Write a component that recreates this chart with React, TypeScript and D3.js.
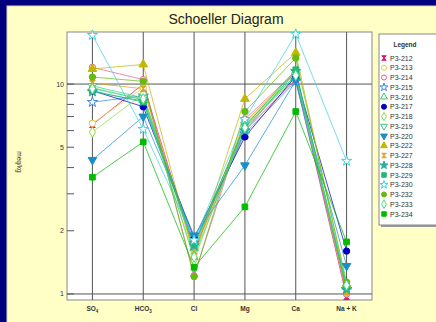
import * as d3 from "d3";

// categories along the x axis
const categories = ["SO4", "HCO3", "Cl", "Mg", "Ca", "NaK"];

// sample ids, in legend order
const samples = [
  "P3-212", "P3-213", "P3-214", "P3-215", "P3-216", "P3-217", "P3-218", "P3-219", "P3-220",
  "P3-222", "P3-227", "P3-228", "P3-229", "P3-230", "P3-232", "P3-233", "P3-234",
];

// meq/kg for each sample: SO4, HCO3, Cl, Mg, Ca, Na+K
const p212 = [6.4, 10.0, 1.6, 6.0, 10.5, 0.97];
const p213 = [6.5, 9.6, 1.55, 6.3, 11.0, 1.02];
const p214 = [12.0, 10.5, 1.22, 6.8, 11.5, 1.0];
const p215 = [8.2, 8.8, 1.75, 5.8, 10.3, 1.05];
const p216 = [9.6, 8.4, 1.65, 6.2, 10.8, 1.08];
const p217 = [9.3, 7.8, 1.85, 5.6, 10.9, 1.6];
const p218 = [5.9, 9.0, 1.45, 6.5, 11.2, 1.03];
const p219 = [9.8, 8.6, 1.7, 6.4, 11.0, 1.07];
const p220 = [4.35, 7.0, 1.9, 4.1, 10.4, 1.36];
const p222 = [11.8, 12.4, 1.5, 8.5, 14.1, 1.1];
const p227 = [10.1, 9.5, 1.6, 6.6, 11.4, 1.02];
const p228 = [9.2, 8.3, 1.7, 6.0, 11.5, 1.05];
const p229 = [9.3, 8.2, 1.75, 6.3, 11.7, 1.08];
const p230 = [17.1, 6.1, 1.8, 6.8, 17.3, 4.3];
const p232 = [10.8, 10.3, 1.21, 7.4, 13.3, 1.14];
const p233 = [9.5, 8.5, 1.5, 6.2, 11.0, 1.1];
const p234 = [3.6, 5.3, 1.34, 2.6, 7.4, 1.77];

const values = [p212, p213, p214, p215, p216, p217, p218, p219, p220, p222, p227, p228, p229, p230, p232, p233, p234];

const colors = [
  "#e0147a", "#e2cf3c", "#e85aa0", "#3a8ae0", "#33cc66", "#0000c0", "#88dd33", "#33cc88", "#1a8ec8",
  "#c2b800", "#e0a020", "#20b0a0", "#22b877", "#40d0e0", "#66bb11", "#44dd88", "#00bb00",
];
// marker shape, filled or not
const shapes = [
  "hour", "circle", "circle", "star", "tri", "circle", "diamond", "invtri", "invtri",
  "tri", "hour", "star", "square", "star", "circle", "diamond", "square",
];
const filled = [true, false, false, false, false, true, false, false, true, true, true, true, true, false, true, false, true];

const markerPath = (shape: string, size: number) => {
  if (shape === "hour") {
    const h = Math.sqrt(size) / 2;
    return `M${-h},${-h}L${h},${-h}L0,0L${h},${h}L${-h},${h}L0,0Z`;
  }
  const t =
    shape === "circle" ? d3.symbolCircle
    : shape === "star" ? d3.symbolStar
    : shape === "tri" || shape === "invtri" ? d3.symbolTriangle
    : shape === "diamond" ? d3.symbolDiamond
    : d3.symbolSquare;
  return d3.symbol(t, size)() as string;
};

function Marker({ i, x, y, size }: { i: number; x: number; y: number; size: number }) {
  const rot = shapes[i] === "invtri" ? " rotate(180)" : "";
  return (
    <path
      d={markerPath(shapes[i], size)}
      transform={`translate(${x},${y})${rot}`}
      fill={filled[i] ? colors[i] : "white"}
      stroke={colors[i]}
      strokeWidth={1}
    />
  );
}

const W = 436, H = 322;
const plot = { left: 67, right: 372, top: 32, bottom: 300 };

export default function App() {
  const x = d3.scalePoint<string>().domain(categories).range([plot.left, plot.right]).padding(0.5);
  const y = d3.scaleLog().domain([0.936, 17.7]).range([plot.bottom, plot.top]);
  const ticks = y.ticks().filter((t) => t >= 1 && t <= 17.7);
  const labelled = [1, 2, 5, 10];
  const line = d3
    .line<number>()
    .x((_, j) => x(categories[j]) as number)
    .y((d) => y(d));

  const font = "Arial, 'Liberation Sans', sans-serif";

  return (
    <svg width={W} height={H} style={{ position: "fixed", left: 0, top: 0 }} fontFamily={font}>
      <rect width={W} height={H} fill="#00007e" />
      <rect x={7} y={6} width={W} height={H} fill="#ffffc6" stroke="#d8d8b0" />
      <text x={226} y={24} textAnchor="middle" fontSize={14} fill="#222">
        Schoeller Diagram
      </text>

      {/* plot area */}
      <rect x={plot.left} y={plot.top} width={plot.right - plot.left} height={plot.bottom - plot.top} fill="white" stroke="#888" />
      {categories.map((c) => (
        <line key={c} x1={x(c)} x2={x(c)} y1={plot.top} y2={plot.bottom} stroke="#555" strokeWidth={1} />
      ))}
      {[1, 10].map((t) => (
        <line key={t} x1={plot.left} x2={plot.right} y1={y(t)} y2={y(t)} stroke="#555" strokeWidth={1} />
      ))}
      {ticks.map((t) => (
        <line key={"t" + t} x1={plot.left} x2={plot.left + 7} y1={y(t)} y2={y(t)} stroke="#555" />
      ))}
      {labelled.map((t) => (
        <text key={"l" + t} x={64} y={y(t) + 2.5} textAnchor="end" fontSize={7} fill="#333">
          {t}
        </text>
      ))}
      <text transform="translate(17,162) rotate(90)" textAnchor="middle" fontSize={6.5} fill="#333">
        meq/kg
      </text>

      {/* category labels */}
      <g fontSize={6.5} fontWeight="bold" fill="#333" textAnchor="middle">
        <text x={x("SO4")} y={311}>
          SO<tspan fontSize={4.5} dy={1.5}>4</tspan>
        </text>
        <text x={x("HCO3")} y={311}>
          HCO<tspan fontSize={4.5} dy={1.5}>3</tspan>
        </text>
        <text x={x("Cl")} y={311}>Cl</text>
        <text x={x("Mg")} y={311}>Mg</text>
        <text x={x("Ca")} y={311}>Ca</text>
        <text x={x("NaK")} y={311}>Na + K</text>
      </g>

      {/* lines */}
      {values.map((v, i) => (
        <path key={"p" + i} d={line(v) as string} fill="none" stroke={colors[i]} strokeWidth={0.9} opacity={0.8} />
      ))}
      {values.map((v, i) =>
        v.map((d, j) => <Marker key={i + "-" + j} i={i} x={x(categories[j]) as number} y={y(d)} size={32} />)
      )}

      {/* legend */}
      <rect x={381} y={36} width={70} height={191} fill="#999" />
      <rect x={379} y={34} width={70} height={191} fill="white" stroke="#888" />
      <text x={405} y={47} textAnchor="middle" fontSize={6.5} fontWeight="bold" fill="#333">
        Legend
      </text>
      {samples.map((s, i) => (
        <g key={s} transform={`translate(0,${58 + i * 9.75})`}>
          <Marker i={i} x={384} y={0} size={20} />
          <text x={390} y={2.5} fontSize={7} fill="#333">
            {s}
          </text>
        </g>
      ))}
    </svg>
  );
}
